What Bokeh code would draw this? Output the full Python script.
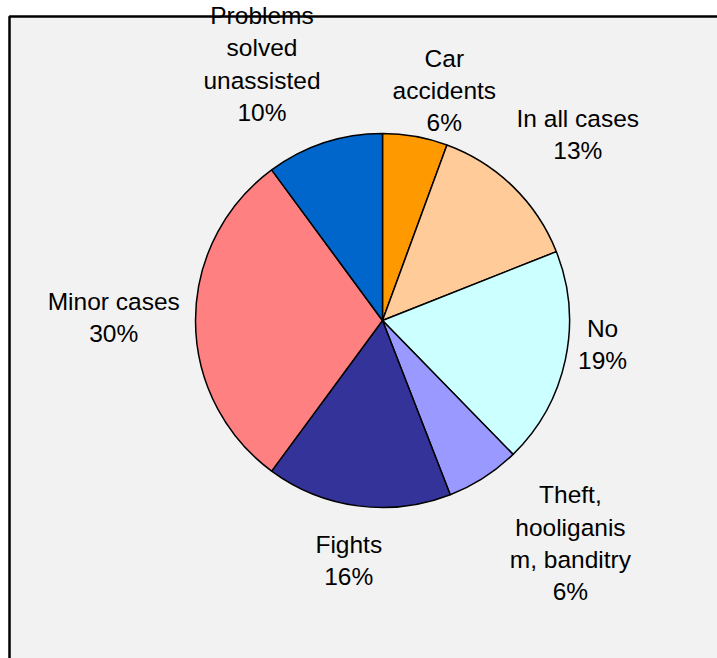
import numpy as np
from bokeh.plotting import figure
from bokeh.models import Range1d, ColumnDataSource
from bokeh.embed import file_html
from bokeh.resources import INLINE
from bokeh.core.properties import value

# ---- data (clockwise from 12 o'clock) ----
categories = ["Car\naccidents", "In all cases", "No", "Theft,\nhooliganis\nm, banditry",
              "Fights", "Minor cases", "Problems\nsolved\nunassisted"]
shares = [5.6, 13.4, 18.7, 6.4, 16.0, 29.8, 10.1]
colors = ["#FF9900", "#FFCC99", "#CCFFFF", "#9999FF", "#333399", "#FF8080", "#0066CC"]

# ---- layout ----
W, H = 717, 658
CX, CY, R = 382, H - 320, 187
FONT = "Liberation Sans"
FS = 24.5
LINE_H = 32
GAP = 4
# best-fit style label nudges (screen px: right, down)
label_nudge = [(11, 8), (3, -16), (11, -30), (25, -5), (0, 17), (-12, -3), (-26, -8)]

vals = np.array(shares, dtype=float)
frac = vals / vals.sum()
cum = np.concatenate([[0.0], np.cumsum(frac)])
start = np.pi / 2 - 2 * np.pi * cum[:-1]
end = np.pi / 2 - 2 * np.pi * cum[1:]
mid = (start + end) / 2

labels = [f"{c}\n{int(round(f * 100))}%" for c, f in zip(categories, frac)]


def text_width(s):
    w = 0.0
    for ch in s:
        if ch in "ilIjft,.' ":
            w += 0.27
        elif ch in "mwMW%":
            w += 0.86
        elif ch.isupper():
            w += 0.68
        else:
            w += 0.54
    return w * 23


lx, ly = [], []
for lab, a, (ndx, ndy) in zip(labels, mid, label_nudge):
    lines = lab.split("\n")
    w = max(text_width(t) for t in lines)
    h = len(lines) * 33.5
    ux, uy = np.cos(a), np.sin(a)
    ax, ay = CX + (R + GAP) * ux, CY + (R + GAP) * uy
    fx = np.clip(2 * ux, -1, 1)
    fy = np.clip(2 * uy, -1, 1)
    lx.append(ax + fx * w / 2 + ndx)
    ly.append(ay + fy * h / 2 - ndy)

src = ColumnDataSource(dict(start=start, end=end, color=colors))
lsrc = ColumnDataSource(dict(x=lx, y=ly, text=labels))

p = figure(width=W, height=H, x_range=Range1d(0, W), y_range=Range1d(0, H),
           output_backend="svg", toolbar_location=None, min_border=0)
p.axis.visible = False
p.grid.visible = False
p.outline_line_color = None
p.background_fill_color = "white"
p.border_fill_color = "white"

# chart area panel
p.quad(left=9, right=W + 20, top=H - 16, bottom=-20, fill_color="#F2F2F2",
       line_color="black", line_width=2.5)

p.wedge(x=CX, y=CY, radius=R, start_angle="start", end_angle="end", direction="clock",
        fill_color="color", line_color="black", line_width=1.5, source=src)

p.text(x="x", y="y", text="text", source=lsrc, text_align="center", text_baseline="middle",
       text_font=value(FONT), text_font_size=f"{FS}px", text_color="black",
       text_line_height=1.19)

open("out.html", "w").write(file_html(p, INLINE))
